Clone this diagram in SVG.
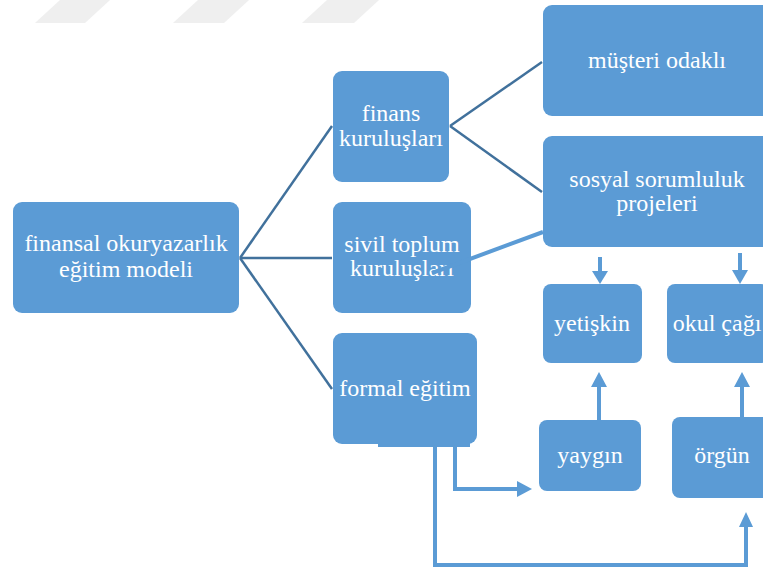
<svg xmlns="http://www.w3.org/2000/svg" width="763" height="569" viewBox="0 0 763 569">
<style>
.box{fill:#5b9bd5;}
.t{font-family:"Liberation Serif","Times New Roman",serif;font-size:24px;fill:#ffffff;text-anchor:middle;}
.ln{stroke:#41719c;stroke-width:2.5;fill:none;}
.ar{stroke:#5b9bd5;stroke-width:4;fill:none;}
.hd{fill:#5b9bd5;}
.wm{fill:#efefef;}
</style>
<rect width="763" height="569" fill="#ffffff"/>
<g id="watermark">
<polygon class="wm" points="35,23 85,23 110,0 60,0"/>
<polygon class="wm" points="173,23 224,23 249,0 198,0"/>
<polygon class="wm" points="302,23 354,23 379,0 327,0"/>
</g>
<g id="connectors">
<line class="ln" x1="240" y1="258" x2="332" y2="126"/>
<line class="ln" x1="240" y1="258" x2="332" y2="258"/>
<line class="ln" x1="240" y1="258" x2="332" y2="389"/>
<line class="ln" x1="450" y1="126" x2="542" y2="62"/>
<line class="ln" x1="450" y1="126" x2="542" y2="192"/>
<line class="ar" x1="600" y1="257" x2="600" y2="272"/>
<polygon class="hd" points="592,271 608,271 600,284"/>
<line class="ar" x1="740" y1="253" x2="740" y2="271"/>
<polygon class="hd" points="732,270 748,270 740,284"/>
<line class="ar" x1="599" y1="420" x2="599" y2="386"/>
<polygon class="hd" points="591,387 607,387 599,372"/>
<line class="ar" x1="742" y1="417" x2="742" y2="386"/>
<polygon class="hd" points="734,387 750,387 742,372"/>
<polyline class="ar" points="455,444 455,489 518,489"/>
<polygon class="hd" points="517,481 517,497 532,489"/>
<polyline class="ar" points="435,444 435,565 746,565 746,526"/>
<polygon class="hd" points="739,527 753,527 746,512"/>
</g>
<g id="n-root">
<rect class="box" x="13" y="202" width="226" height="111" rx="9"/>
<text class="t" x="126" y="251">finansal okuryazarlık</text>
<text class="t" x="126" y="277">eğitim modeli</text>
</g>
<g id="n-finans">
<rect class="box" x="333" y="71" width="116" height="111" rx="9"/>
<text class="t" x="391" y="121">finans</text>
<text class="t" x="391" y="146">kuruluşları</text>
</g>
<g id="n-sivil">
<rect class="box" x="333" y="202" width="138" height="111" rx="9"/>
<text class="t" x="402" y="252">sivil toplum</text>
<text class="t" x="402" y="276">kuruluşları</text>
</g>
<g id="n-formal">
<rect class="box" x="333" y="333" width="144" height="111" rx="9"/>
<rect class="box" x="378" y="436" width="92" height="11"/>
<text class="t" x="405" y="396">formal eğitim</text>
</g>
<g id="n-musteri">
<rect class="box" x="543" y="5" width="228" height="111" rx="9"/>
<text class="t" x="657" y="68">müşteri odaklı</text>
</g>
<g id="n-sosyal">
<rect class="box" x="543" y="136" width="228" height="111" rx="9"/>
<text class="t" x="657" y="187">sosyal sorumluluk</text>
<text class="t" x="657" y="211">projeleri</text>
</g>
<g id="n-yetiskin">
<rect class="box" x="543" y="284" width="99" height="79" rx="8"/>
<text class="t" x="592" y="331">yetişkin</text>
</g>
<g id="n-okul">
<rect class="box" x="667" y="284" width="102" height="79" rx="8"/>
<text class="t" x="717" y="331">okul çağı</text>
</g>
<g id="n-yaygin">
<rect class="box" x="539" y="420" width="102" height="71" rx="8"/>
<text class="t" x="590" y="463">yaygın</text>
</g>
<g id="n-orgun">
<rect class="box" x="672" y="417" width="100" height="81" rx="8"/>
<text class="t" x="722" y="463">örgün</text>
</g>
<g id="connector-sivil-sosyal">
<line x1="432" y1="273" x2="543" y2="232" stroke="#5b9bd5" stroke-width="4"/>
</g>
</svg>
